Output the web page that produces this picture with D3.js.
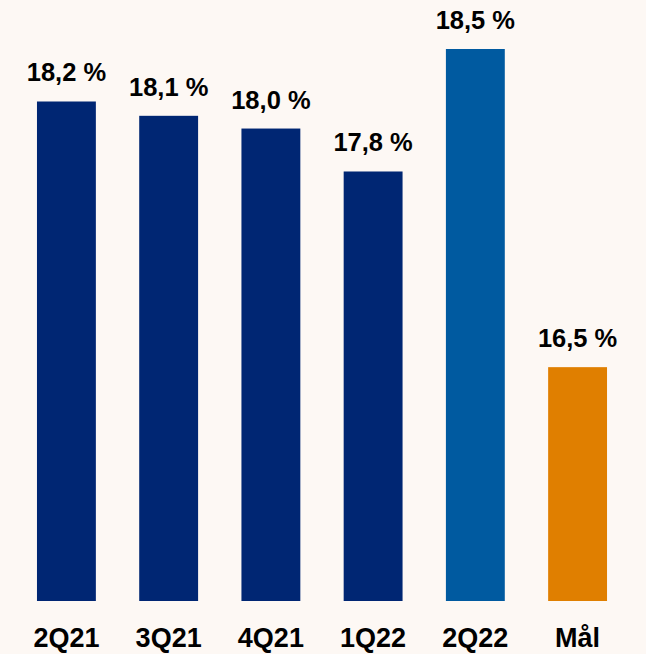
<!DOCTYPE html>
<html>
<head>
<meta charset="utf-8">
<script src="https://cdn.jsdelivr.net/npm/d3@7"></script>
<style>
  html, body { margin: 0; padding: 0; background: #fdf8f4; }
  svg { display: block; }
  text { font-family: "Liberation Sans", Arial, sans-serif; font-weight: bold; fill: #000; }
</style>
</head>
<body>
<svg id="chart" width="646" height="654"></svg>
<script>
const categories = ["2Q21", "3Q21", "4Q21", "1Q22", "2Q22", "Mål"];
// bar heights as measured (labels show rounded values)
const values = [18.17, 18.08, 18.0, 17.73, 18.5, 16.5];
const valueLabels = ["18,2 %", "18,1 %", "18,0 %", "17,8 %", "18,5 %", "16,5 %"];
const barColors = ["#002673", "#002673", "#002673", "#002673", "#005aa0", "#e07f00"];

const svg = d3.select("#chart");
const W = 646, H = 654;
svg.append("rect").attr("width", W).attr("height", H).attr("fill", "#fdf8f4");

const x = d3.scaleBand()
  .domain(categories)
  .range([15.3, 628.7])
  .paddingInner(0.424)
  .paddingOuter(0.212);

const y = d3.scaleLinear()
  .domain([15.03, 18.5])
  .range([601, 49]);

const data = categories.map((c, i) => ({ c, v: values[i], label: valueLabels[i], color: barColors[i] }));

svg.append("g").selectAll("rect")
  .data(data)
  .join("rect")
  .attr("x", d => x(d.c))
  .attr("y", d => y(d.v))
  .attr("width", x.bandwidth())
  .attr("height", d => y.range()[0] - y(d.v))
  .attr("fill", d => d.color);

svg.append("g").selectAll("text")
  .data(data)
  .join("text")
  .attr("x", d => x(d.c) + x.bandwidth() / 2)
  .attr("y", d => y(d.v) - 20)
  .attr("text-anchor", "middle")
  .attr("font-size", 25.5)
  .text(d => d.label);

const xAxis = d3.axisBottom(x).tickSize(0).tickPadding(0);
const gx = svg.append("g").attr("transform", "translate(0,601)").call(xAxis);
gx.select(".domain").remove();
gx.selectAll("text")
  .attr("y", 46)
  .attr("dy", 0)
  .attr("font-size", 27)
  .style("font-family", "'Liberation Sans', Arial, sans-serif")
  .style("font-weight", "bold")
  .attr("fill", "#000");
</script>
</body>
</html>
